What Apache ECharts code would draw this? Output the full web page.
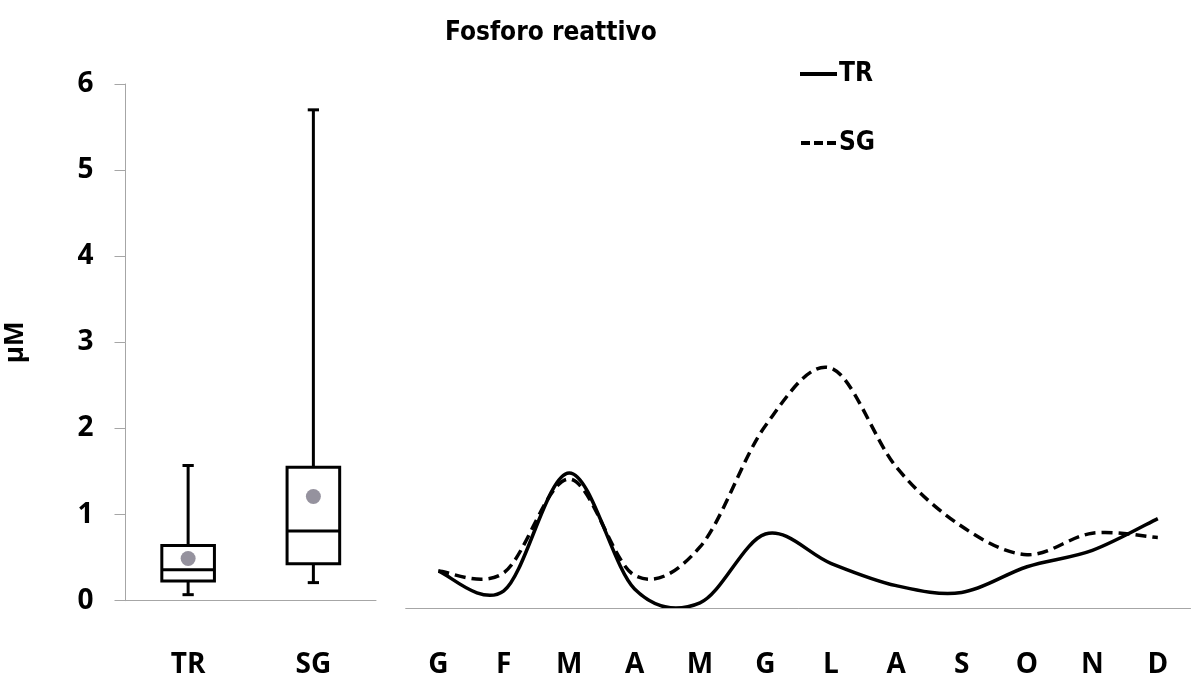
<!DOCTYPE html>
<html><head><meta charset="utf-8">
<script src="https://cdn.jsdelivr.net/npm/echarts@6/dist/echarts.min.js"></script>
<style>html,body{margin:0;padding:0;background:#fff}#c{width:1192px;height:688px}</style>
</head><body><div id="c"></div>
<script>
// ---- data ----
const boxCategories = ['TR', 'SG'];
// [min, Q1, median, Q3, max]
const boxTR = [0.07, 0.23, 0.36, 0.64, 1.57];
const boxSG = [0.21, 0.43, 0.81, 1.55, 5.70];
const boxMeans = [0.49, 1.21];
const months = ['G', 'F', 'M', 'A', 'M', 'G', 'L', 'A', 'S', 'O', 'N', 'D'];
const trValues = [0.43, 0.20, 1.57, 0.22, 0.06, 0.86, 0.52, 0.26, 0.18, 0.48, 0.67, 1.04];
const sgValues = [0.43, 0.41, 1.50, 0.38, 0.71, 2.12, 2.79, 1.64, 0.95, 0.62, 0.87, 0.82];
const yMin = 0, yMax = 6, yStep = 1;

const labelFont = "'Open Sans', sans-serif";
const narrowFont = "'DejaVu Sans', sans-serif";
const axisGray = '#a6a6a6';

const chart = echarts.init(document.getElementById('c'), null, {renderer: 'canvas'});

const boxData = [boxTR, boxSG].map((s, i) => [i].concat(s));

function renderBox(params, api) {
  const idx = api.value(0);
  const band = api.size([1, 0])[0];
  const bw = band * 0.42;
  const cw = band * 0.09;
  const pMin = api.coord([idx, api.value(1)]);
  const pQ1 = api.coord([idx, api.value(2)]);
  const pMed = api.coord([idx, api.value(3)]);
  const pQ3 = api.coord([idx, api.value(4)]);
  const pMax = api.coord([idx, api.value(5)]);
  const cx = pMin[0];
  const st = {stroke: '#000', lineWidth: 3, fill: 'none'};
  return {
    type: 'group',
    children: [
      {type: 'line', shape: {x1: cx, y1: pQ3[1], x2: cx, y2: pMax[1]}, style: st},
      {type: 'line', shape: {x1: cx, y1: pQ1[1], x2: cx, y2: pMin[1]}, style: st},
      {type: 'line', shape: {x1: cx - cw / 2, y1: pMax[1], x2: cx + cw / 2, y2: pMax[1]}, style: st},
      {type: 'line', shape: {x1: cx - cw / 2, y1: pMin[1], x2: cx + cw / 2, y2: pMin[1]}, style: st},
      {type: 'rect', shape: {x: cx - bw / 2, y: pQ3[1], width: bw, height: pQ1[1] - pQ3[1]},
        style: {stroke: '#000', lineWidth: 3, fill: '#fff'}},
      {type: 'line', shape: {x1: cx - bw / 2, y1: pMed[1], x2: cx + bw / 2, y2: pMed[1]}, style: st}
    ]
  };
}

// Excel-like smoothed line (Catmull-Rom through the data points, positioned by the axes)
function splineRenderer(values, dash) {
  const t = 1 / 6;
  return function (params, api) {
    if (params.dataIndex !== 0) return null;
    const pts = values.map((v, i) => api.coord([i, v]));
    const n = pts.length;
    let d = 'M' + pts[0][0] + ',' + pts[0][1];
    for (let i = 0; i < n - 1; i++) {
      const p0 = pts[Math.max(i - 1, 0)], p1 = pts[i], p2 = pts[i + 1], p3 = pts[Math.min(i + 2, n - 1)];
      const c1x = p1[0] + (p2[0] - p0[0]) * t, c1y = p1[1] + (p2[1] - p0[1]) * t;
      const c2x = p2[0] - (p3[0] - p1[0]) * t, c2y = p2[1] - (p3[1] - p1[1]) * t;
      d += ' C' + c1x + ',' + c1y + ' ' + c2x + ',' + c2y + ' ' + p2[0] + ',' + p2[1];
    }
    return {
      type: 'path',
      shape: {pathData: d},
      style: {stroke: '#000', lineWidth: 3.5, fill: null, lineDash: dash, lineCap: 'butt', lineJoin: 'round'}
    };
  };
}

const option = {
  backgroundColor: '#fff',
  animation: false,
  title: {
    text: 'Fosforo reattivo',
    left: 440, top: 15,
    textStyle: {fontFamily: narrowFont, fontWeight: 'bold condensed', fontSize: 26, color: '#000'}
  },
  legend: {
    orient: 'vertical',
    left: 800, top: 59, padding: 0,
    itemWidth: 37, itemHeight: 4, itemGap: 39,
    textStyle: {fontFamily: narrowFont, fontWeight: 'bold condensed', fontSize: 26, color: '#000', lineHeight: 30, padding: [0, 0, 0, -3]},
    data: [
      {name: 'TR', icon: 'path://M0,0H37V4H0Z', itemStyle: {color: '#000'}},
      {name: 'SG', icon: 'path://M0,0H9V4H0Z M13,0H22V4H13Z M26,0H35V4H26Z', itemStyle: {color: '#000'}}
    ]
  },
  grid: [
    {left: 125.5, right: 816, top: 84, bottom: 87.3},
    {left: 405.7, right: 1.5, top: 92, bottom: 80}
  ],
  xAxis: [
    {
      type: 'category', gridIndex: 0, data: boxCategories,
      axisLine: {lineStyle: {color: axisGray, width: 1}},
      axisTick: {length: 13, lineStyle: {color: axisGray}},
      axisLabel: {margin: 50, fontFamily: labelFont, fontWeight: 'bold', fontSize: 28, color: '#000'}
    },
    {
      type: 'category', gridIndex: 1, data: months,
      axisLine: {lineStyle: {color: axisGray, width: 1}},
      axisTick: {length: 13, lineStyle: {color: axisGray}},
      axisLabel: {margin: 43, interval: 0, fontFamily: labelFont, fontWeight: 'bold', fontSize: 28, color: '#000'}
    }
  ],
  yAxis: [
    {
      type: 'value', gridIndex: 0, min: yMin, max: yMax, interval: yStep,
      name: 'µM', nameLocation: 'middle', nameRotate: 90, nameGap: 97,
      nameTextStyle: {fontFamily: labelFont, fontWeight: 'bold', fontSize: 26, color: '#000'},
      axisLine: {show: true, lineStyle: {color: axisGray, width: 1}},
      axisTick: {show: true, length: 11, lineStyle: {color: axisGray}},
      splitLine: {show: false},
      axisLabel: {margin: 32, fontFamily: labelFont, fontWeight: 'bold', fontSize: 28, color: '#000'}
    },
    {
      type: 'value', gridIndex: 1, min: yMin, max: yMax, interval: yStep,
      show: false, splitLine: {show: false}
    }
  ],
  series: [
    {
      name: 'box', type: 'custom', xAxisIndex: 0, yAxisIndex: 0,
      renderItem: renderBox, data: boxData,
      encode: {x: 0, y: [1, 2, 3, 4, 5]}, z: 2
    },
    {
      name: 'mean', type: 'scatter', xAxisIndex: 0, yAxisIndex: 0,
      data: boxMeans, symbolSize: 15, itemStyle: {color: '#7a7786'}, z: 3
    },
    {
      name: 'TR', type: 'custom', xAxisIndex: 1, yAxisIndex: 1, clip: true,
      data: trValues.map((v, i) => [i, v]), encode: {x: 0, y: 1},
      renderItem: splineRenderer(trValues, null), itemStyle: {color: '#000'}
    },
    {
      name: 'SG', type: 'custom', xAxisIndex: 1, yAxisIndex: 1, clip: true,
      data: sgValues.map((v, i) => [i, v]), encode: {x: 0, y: 1},
      renderItem: splineRenderer(sgValues, [11, 6]), itemStyle: {color: '#000'}
    }
  ]
};
chart.setOption(option);
</script>
</body></html>
